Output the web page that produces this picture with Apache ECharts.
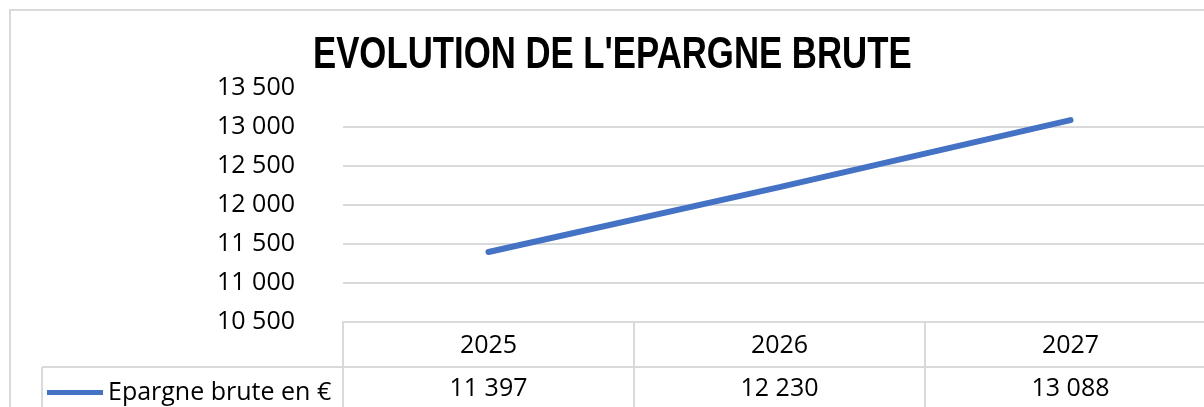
<!DOCTYPE html>
<html>
<head>
<meta charset="utf-8">
<script src="https://cdn.jsdelivr.net/npm/echarts@6/dist/echarts.min.js"></script>
<style>
  html, body { margin: 0; padding: 0; background: #ffffff; }
  #epargneChart { width: 1204px; height: 407px; }
</style>
</head>
<body>
<div id="epargneChart"></div>
<script>
// données du graphique
const annees = ["2025", "2026", "2027"];
const epargneBrute = [11397, 12230, 13088];
const serieNom = "Epargne brute en \u20ac";
const titre = "EVOLUTION DE L'EPARGNE BRUTE";

// 13500 -> "13 500"
function fmt(v) {
  return String(v).replace(/\B(?=(\d{3})+(?!\d))/g, " ");
}

const gris = "#d9d9d9";
const police = "Open Sans";

let myChart = echarts.init(document.getElementById("epargneChart"));

let option = {
  animation: false,
  legend: {
    left: 42,
    top: 375,
    icon: "rect",
    itemWidth: 56,
    itemHeight: 5,
    data: [serieNom],
    textStyle: { fontFamily: police, fontSize: 25, color: "#000" }
  },
  grid: {
    left: 343,
    width: 873,
    top: 88,
    bottom: 85,
    outerBoundsMode: "none"
  },
  xAxis: {
    type: "category",
    data: annees,
    boundaryGap: true,
    axisLine: { show: true, lineStyle: { color: gris, width: 2 } },
    axisTick: { show: true, length: 100, lineStyle: { color: gris, width: 2 } },
    splitLine: { show: false },
    axisLabel: {
      margin: 2,
      formatter: function (val, idx) {
        return "{y|" + val + "}\n{v|" + fmt(epargneBrute[idx]) + "}";
      },
      rich: {
        y: { fontFamily: police, fontSize: 25, color: "#000", lineHeight: 43 },
        v: { fontFamily: police, fontSize: 25, color: "#000", lineHeight: 43 }
      }
    }
  },
  yAxis: {
    type: "value",
    min: 10500,
    max: 13500,
    interval: 500,
    axisLine: { show: false },
    axisTick: { show: false },
    axisLabel: {
      margin: 48,
      fontFamily: police,
      fontSize: 25,
      color: "#000",
      formatter: function (v) { return fmt(v); }
    },
    splitLine: {
      show: true,
      // pas de ligne en haut (13 500)
      lineStyle: {
        color: [gris, gris, gris, gris, gris, gris, "rgba(0,0,0,0)"],
        width: 2
      }
    }
  },
  series: [
    {
      name: serieNom,
      type: "line",
      data: epargneBrute,
      symbol: "none",
      lineStyle: { color: "#4472c4", width: 6, cap: "round" },
      itemStyle: { color: "#4472c4" }
    }
  ],
  graphic: [
    // titre (police étroite simulée)
    {
      type: "text",
      x: 313,
      y: 56,
      scaleX: 0.79,
      originX: 0,
      style: {
        text: titre,
        font: 'bold 44px "Liberation Sans", Arial, sans-serif',
        fill: "#000",
        textAlign: "left",
        textVerticalAlign: "middle"
      },
      silent: true
    },
    // cadre extérieur
    {
      type: "rect",
      shape: { x: 10, y: 10, width: 1300, height: 500 },
      style: { fill: "none", stroke: gris, lineWidth: 2 },
      silent: true
    },
    // ligne entre années et valeurs
    {
      type: "line",
      shape: { x1: 42, y1: 367, x2: 1300, y2: 367 },
      style: { stroke: gris, lineWidth: 2 },
      silent: true
    },
    // bord gauche de la cellule légende
    {
      type: "line",
      shape: { x1: 42, y1: 367, x2: 42, y2: 420 },
      style: { stroke: gris, lineWidth: 2 },
      silent: true
    }
  ]
};

myChart.setOption(option);
</script>
</body>
</html>
